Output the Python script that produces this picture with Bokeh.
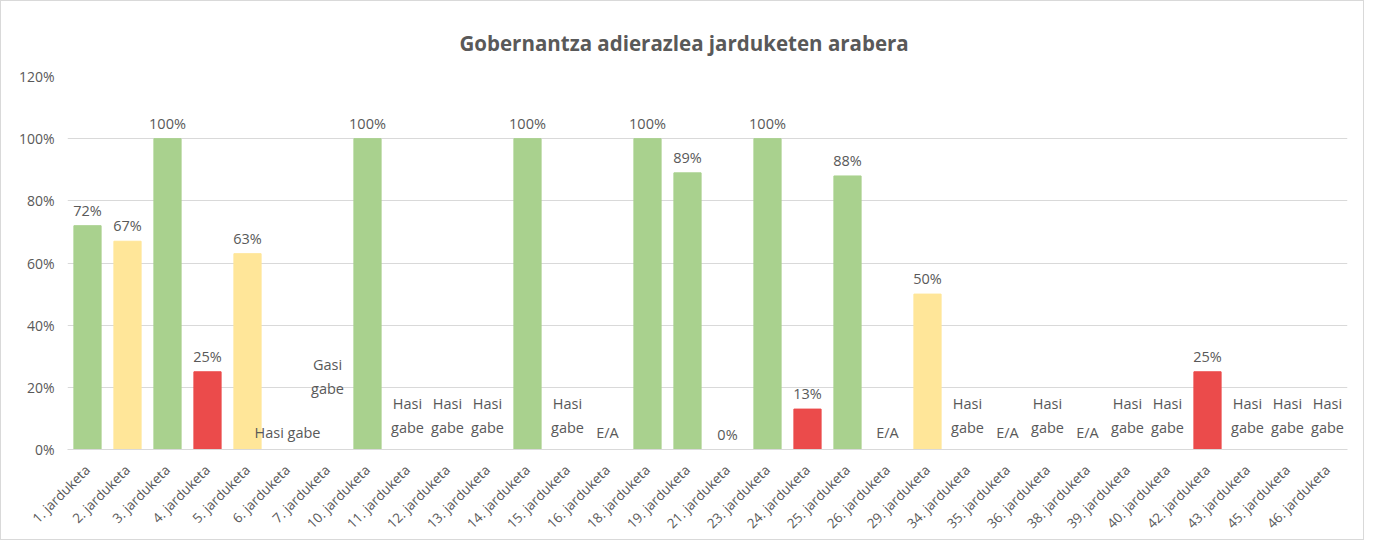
import math
from bokeh.plotting import figure
from bokeh.models import ColumnDataSource, NumeralTickFormatter, Title
from bokeh.core.properties import value
from bokeh.embed import file_html
from bokeh.resources import INLINE

categories = ["1. jarduketa", "2. jarduketa", "3. jarduketa", "4. jarduketa", "5. jarduketa",
              "6. jarduketa", "7. jarduketa", "10. jarduketa", "11. jarduketa", "12. jarduketa",
              "13. jarduketa", "14. jarduketa", "15. jarduketa", "16. jarduketa", "18. jarduketa",
              "19. jarduketa", "21. jarduketa", "23. jarduketa", "24. jarduketa", "25. jarduketa",
              "26. jarduketa", "29. jarduketa", "34. jarduketa", "35. jarduketa", "36. jarduketa",
              "38. jarduketa", "39. jarduketa", "40. jarduketa", "42. jarduketa", "43. jarduketa",
              "45. jarduketa", "46. jarduketa"]
# None = no numeric value (status text shown instead)
values = [0.72, 0.67, 1.00, 0.25, 0.63, None, None, 1.00, None, None,
          None, 1.00, None, None, 1.00, 0.89, 0.00, 1.00, 0.13, 0.88,
          None, 0.50, None, None, None, None, None, None, 0.25, None,
          None, None]
status = [None, None, None, None, None, "Hasi gabe", "Gasi\ngabe", None, "Hasi\ngabe", "Hasi\ngabe",
          "Hasi\ngabe", None, "Hasi\ngabe", "E/A", None, None, None, None, None, None,
          "E/A", None, "Hasi\ngabe", "E/A", "Hasi\ngabe", "E/A", "Hasi\ngabe", "Hasi\ngabe", None, "Hasi\ngabe",
          "Hasi\ngabe", "Hasi\ngabe"]
y_ticks = [0, 0.2, 0.4, 0.6, 0.8, 1.0, 1.2]

GREEN = "#A9D18E"
YELLOW = "#FFE699"
RED = "#EB4B4B"
TXT = "#595959"
FONT = "Open Sans"

def color_for(v):
    if v >= 0.70:
        return GREEN
    if v >= 0.50:
        return YELLOW
    return RED

bar_x, bar_top, bar_col, bar_lab = [], [], [], []
for c, v in zip(categories, values):
    if v is not None:
        bar_x.append(c)
        bar_top.append(v)
        bar_col.append(color_for(v))
        bar_lab.append(f"{round(v*100)}%")
bars = ColumnDataSource(dict(x=bar_x, top=bar_top, color=bar_col, label=bar_lab))

p = figure(x_range=categories, y_range=(0, 1.2), width=1364, height=540,
           output_backend="svg", toolbar_location=None,
           min_border_left=66, min_border_right=18, min_border_top=75, min_border_bottom=89)
p.styles = {"border": "1px solid #d9d9d9"}
p.x_range.range_padding = 0
p.outline_line_color = None

p.title = Title(text="Gobernantza adierazlea jarduketen arabera", align="left",
                text_font=FONT, text_font_size="20.5px", text_font_style="bold",
                text_color=TXT, standoff=36, offset=392, vertical_align="top")

p.vbar(x="x", top="top", width=0.68, color="color", source=bars)
p.text(x="x", y="top", text="label", source=bars, text_align="center",
       text_baseline="bottom", y_offset=-6, text_font=value(FONT),
       text_font_size="14.5px", text_color=TXT)

# status texts
two_x, two_t, one_x, one_t, hi_x, hi_t = [], [], [], [], [], []
for c, s in zip(categories, status):
    if s is None:
        continue
    if s.startswith("Gasi"):
        hi_x.append(c); hi_t.append(s)
    elif "\n" in s:
        two_x.append(c); two_t.append(s)
    else:
        one_x.append(c); one_t.append(s)
common = dict(text_align="center", text_baseline="bottom", text_font=value(FONT),
              text_font_size="14.5px", text_color=TXT, text_line_height=1.25)
p.text(x=two_x, y=[0]*len(two_x), text=two_t, y_offset=-13, **common)
p.text(x=one_x, y=[0]*len(one_x), text=one_t, y_offset=-8, **common)
p.text(x=hi_x, y=[0]*len(hi_x), text=hi_t, y_offset=-52, **common)

p.yaxis.ticker = y_ticks
p.yaxis.formatter = NumeralTickFormatter(format="0%")
p.yaxis.axis_line_color = None
p.yaxis.major_tick_line_color = None
p.yaxis.minor_tick_line_color = None
p.yaxis.major_label_text_font = FONT
p.yaxis.major_label_text_font_size = "14px"
p.yaxis.major_label_text_color = TXT
p.yaxis.major_label_standoff = 7

p.xaxis.axis_line_color = "#D9D9D9"
p.xaxis.major_tick_line_color = None
p.xaxis.minor_tick_line_color = None
p.xaxis.major_label_orientation = math.pi / 4
p.xaxis.major_label_text_font = FONT
p.xaxis.major_label_text_font_size = "13.5px"
p.xaxis.major_label_text_color = TXT
p.xaxis.major_label_standoff = 12

p.xgrid.grid_line_color = None
p.ygrid.grid_line_color = "#D9D9D9"
p.ygrid.grid_line_width = 1

open("out.html", "w").write(file_html(p, INLINE))
